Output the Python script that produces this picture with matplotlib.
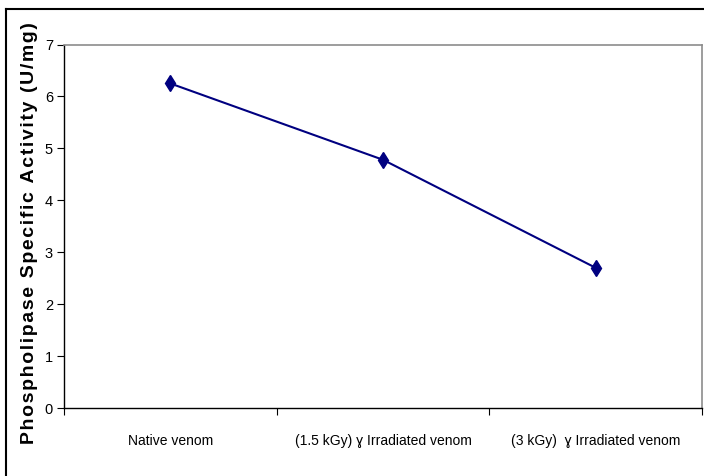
import matplotlib.pyplot as plt
from matplotlib.lines import Line2D

# data
categories = ["Native venom", "(1.5 kGy) \u0263 Irradiated venom", "(3 kGy)  \u0263 Irradiated venom"]
activity = [6.25, 4.78, 2.70]
yticks = [0, 1, 2, 3, 4, 5, 6, 7]
ylabel = "Phospholipase Specific Activity (U/mg)"

plt.rcParams['font.family'] = ['Liberation Sans', 'DejaVu Sans']

fig = plt.figure(figsize=(7.04, 4.76), dpi=100)
ax = fig.add_axes([64 / 704, 1 - 408 / 476, (702 - 64) / 704, (408 - 44.5) / 476])

x = list(range(len(categories)))
ax.plot(x, activity, color='#000080', linewidth=1.5, marker='d', markersize=8,
        markerfacecolor='#000080', markeredgecolor='#000080')

ax.set_xlim(-0.5, len(categories) - 0.5)
ax.set_ylim(0, 7)
ax.set_yticks(yticks)
ax.set_yticklabels([str(v) for v in yticks], fontsize=10.5)

# category boundaries as ticks, labels centred between them
ax.set_xticks([i - 0.5 for i in range(len(categories) + 1)])
ax.set_xticklabels([])
ax.set_xticks(x, minor=True)
ax.set_xticklabels(categories, minor=True, fontsize=10)
ax.tick_params(axis='x', which='major', direction='out', length=5, width=0.8, color='black')
ax.tick_params(axis='x', which='minor', length=0, pad=19)
ax.tick_params(axis='y', direction='out', length=5, width=0.8, pad=3)

for side in ['top', 'right']:
    ax.spines[side].set_color('#8c8c8c')
    ax.spines[side].set_linewidth(1.2)
for side in ['left', 'bottom']:
    ax.spines[side].set_color('black')
    ax.spines[side].set_linewidth(1.0)

# slightly letter-spaced bold axis title
spaced = "\u200a".join(ylabel)
ax.set_ylabel(spaced, fontsize=14, fontweight='bold')
ax.yaxis.set_label_coords((38 - 64) / 638, 0.481)

# outer frame (top and left edges visible)
fig.add_artist(Line2D([6 / 704, 6 / 704], [0, 1 - 9 / 476], transform=fig.transFigure, color='black', linewidth=1.5))
fig.add_artist(Line2D([6 / 704, 1], [1 - 9 / 476, 1 - 9 / 476], transform=fig.transFigure, color='black', linewidth=1.5))

fig.savefig("out.png", dpi=100)
